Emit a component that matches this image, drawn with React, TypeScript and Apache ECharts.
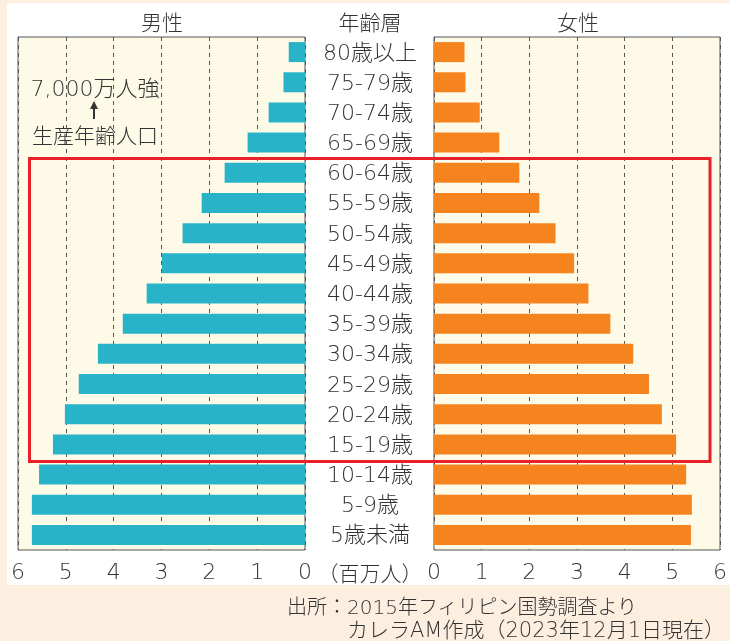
import React, { useEffect, useRef } from "react";
import * as echarts from "echarts";

const categories = [
  "80歳以上", "75-79歳", "70-74歳", "65-69歳", "60-64歳", "55-59歳",
  "50-54歳", "45-49歳", "40-44歳", "35-39歳", "30-34歳", "25-29歳",
  "20-24歳", "15-19歳", "10-14歳", "5-9歳", "5歳未満",
];
const male = [0.34, 0.45, 0.76, 1.2, 1.68, 2.16, 2.56, 2.99, 3.31, 3.81, 4.33, 4.73, 5.02, 5.27, 5.56, 5.71, 5.71];
const female = [0.64, 0.66, 0.96, 1.37, 1.79, 2.21, 2.55, 2.94, 3.24, 3.7, 4.18, 4.51, 4.78, 5.08, 5.29, 5.41, 5.39];
const xTicks = [0, 1, 2, 3, 4, 5, 6];

const FONT = '"DejaVu Sans", "Noto Sans CJK JP", sans-serif';
const CJK = '"Noto Sans CJK JP", sans-serif';
const TXT = "#333333";
const W = 300;

export default function App() {
  const ref = useRef<HTMLDivElement>(null);
  useEffect(() => {
    if (!ref.current) return;
    const chart = echarts.init(ref.current, null, { renderer: "svg" });
    const xAxisCommon = {
      type: "value",
      min: xTicks[0],
      max: xTicks[xTicks.length - 1],
      interval: 1,
      axisLine: { show: false },
      axisTick: { show: false },
      splitLine: { show: true, lineStyle: { color: "#555", type: [4, 4], width: 1 } },
      axisLabel: { fontSize: 22, color: TXT, fontFamily: FONT, fontWeight: W, margin: 10 },
    };
    const txt = (x: number, y: number, text: string, opts: any = {}) => ({
      type: "text", x, y, z: 10,
      style: { text, fontSize: 21, fill: TXT, fontFamily: FONT, fontWeight: W, align: "center", verticalAlign: "middle", ...opts },
    });
    chart.setOption({
      animation: false,
      textStyle: { fontFamily: FONT },
      grid: [
        { left: 18, right: 425, top: 37, bottom: 91, show: true, backgroundColor: "#fefae8", borderColor: "#555", borderWidth: 1 },
        { left: 434, right: 9, top: 37, bottom: 91, show: true, backgroundColor: "#fefae8", borderColor: "#555", borderWidth: 1 },
      ],
      xAxis: [
        { ...xAxisCommon, gridIndex: 0, inverse: true },
        { ...xAxisCommon, gridIndex: 1 },
      ],
      yAxis: [
        {
          type: "category", gridIndex: 0, data: categories, inverse: true, position: "right",
          axisLine: { show: false }, axisTick: { show: false },
          axisLabel: { fontSize: 22, color: TXT, fontFamily: FONT, fontWeight: W, align: "center", margin: 65 },
        },
        {
          type: "category", gridIndex: 1, data: categories, inverse: true,
          axisLine: { show: false }, axisTick: { show: false }, axisLabel: { show: false },
        },
      ],
      series: [
        { type: "bar", xAxisIndex: 0, yAxisIndex: 0, data: male, barWidth: 20, itemStyle: { color: "#29b3c8" } },
        { type: "bar", xAxisIndex: 1, yAxisIndex: 1, data: female, barWidth: 20, itemStyle: { color: "#f5841f" } },
      ],
      graphic: [
        { type: "rect", z: -10, shape: { x: 0, y: 0, width: 730, height: 641 }, style: { fill: "#fdefe0" }, silent: true },
        { type: "rect", z: -9, shape: { x: 7, y: 3, width: 730, height: 582 }, style: { fill: "#ffffff" }, silent: true },
        txt(162, 21, "男性", { fontFamily: CJK }),
        txt(370, 21, "年齢層", { fontFamily: CJK }),
        txt(578, 21, "女性", { fontFamily: CJK }),
        txt(370, 572, "（百万人）", { fontFamily: CJK }),
        txt(95, 88, "7,000万人強", { fontSize: 22 }),
        { type: "line", z: 10, shape: { x1: 94, y1: 106, x2: 94, y2: 119 }, style: { stroke: "#333", lineWidth: 2 } },
        { type: "polygon", z: 10, shape: { points: [[94, 101], [90, 109], [98, 109]] }, style: { fill: "#333" } },
        txt(95, 134, "生産年齢人口", { fontFamily: CJK }),
        { type: "rect", z: 20, shape: { x: 29.5, y: 158.5, width: 680.5, height: 303 }, style: { fill: "none", stroke: "#e8202a", lineWidth: 3 } },
        txt(287, 607, "出所：2015年フィリピン国勢調査より", { fontSize: 20, align: "left" }),
        txt(725, 630, "カレラAM作成（2023年12月1日現在）", { fontSize: 21, align: "right" }),
      ],
    });
    return () => chart.dispose();
  }, []);
  return <div ref={ref} style={{ position: "fixed", left: 0, top: 0, width: 730, height: 641 }} />;
}
